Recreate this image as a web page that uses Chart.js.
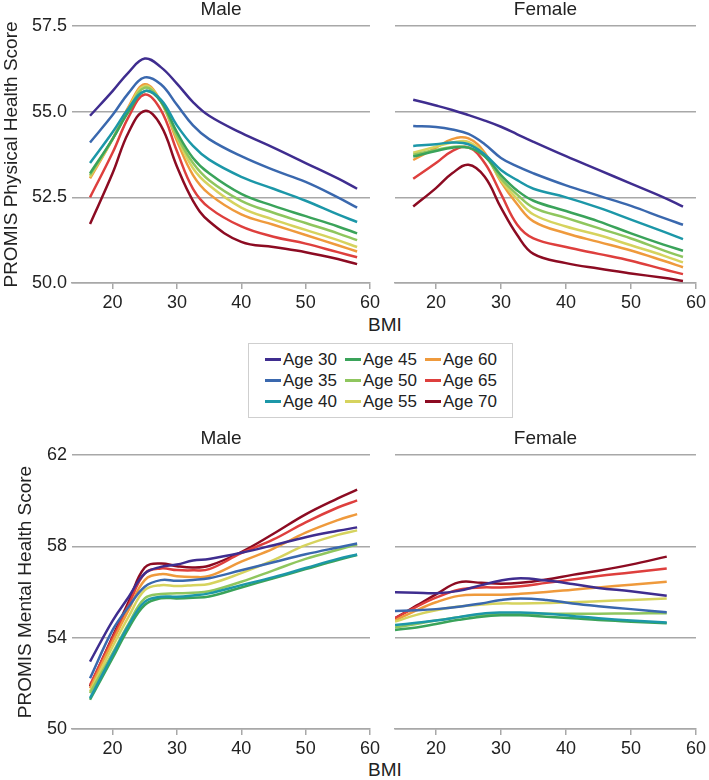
<!DOCTYPE html>
<html>
<head>
<meta charset="utf-8">
<script src="https://cdn.jsdelivr.net/npm/chart.js@4.4.1/dist/chart.umd.min.js"></script>
<style>
  body { margin: 0; background: #fff; width: 709px; height: 780px; position: relative; overflow: hidden;
         font-family: "Liberation Sans", Arial, sans-serif; color: #222; }
  canvas { position: absolute; }
  .lbl { position: absolute; font-size: 19px; transform: translate(-50%, -50%); white-space: nowrap; }
  #legend { position: absolute; left: 248px; top: 343px; width: 263px; height: 73px; border: 1px solid #cfcfcf; }
  .item { position: absolute; font-size: 17px; line-height: 20px; white-space: nowrap; transform: translateY(-50%); }
  .sw { display: inline-block; width: 16px; height: 3px; vertical-align: middle; margin-right: 2px; position: relative; top: -1px; }
</style>
</head>
<body>
<canvas id="physMale"></canvas>
<canvas id="physFemale"></canvas>
<canvas id="mentMale"></canvas>
<canvas id="mentFemale"></canvas>
<div class="lbl" style="left:385px; top:325px;">BMI</div>
<div class="lbl" style="left:385px; top:770px;">BMI</div>
<div id="legend"></div>

<script>
// --- data ---
const ages = [30, 35, 40, 45, 50, 55, 60, 65, 70];
const bmiTicks = [20, 30, 40, 50, 60];
const physTicks = [50, 52.5, 55, 57.5];
const mentTicks = [50, 54, 58, 62];

const bmiGrid = [16.5, 20, 22.5, 25, 27.5, 30, 32.5, 35, 40, 45, 50, 55, 58];
const bmiGridMentFemale = [13.7, 17, 20, 23.5, 27, 30, 33, 37, 41, 45, 50, 55.5];

// one row per age group, 30 -> 70
const physMaleRows = [
  [54.88, 55.6, 56.15, 56.55, 56.3, 55.82, 55.28, 54.88, 54.38, 53.95, 53.5, 53.05, 52.75],
  [54.1, 54.9, 55.55, 56.0, 55.8, 55.2, 54.6, 54.2, 53.7, 53.3, 52.95, 52.5, 52.2],
  [53.5, 54.4, 55.1, 55.6, 55.35, 54.6, 54.0, 53.6, 53.1, 52.75, 52.4, 52.0, 51.78],
  [53.2, 54.2, 55.0, 55.6, 55.3, 54.4, 53.65, 53.2, 52.6, 52.25, 51.95, 51.65, 51.45],
  [53.15, 54.2, 55.05, 55.7, 55.3, 54.3, 53.5, 53.0, 52.4, 52.05, 51.75, 51.45, 51.25],
  [53.1, 54.2, 55.1, 55.75, 55.3, 54.25, 53.35, 52.85, 52.2, 51.85, 51.55, 51.25, 51.05],
  [53.05, 54.2, 55.15, 55.8, 55.3, 54.15, 53.15, 52.6, 52.0, 51.7, 51.4, 51.1, 50.92],
  [52.5, 53.8, 54.85, 55.5, 55.05, 53.85, 52.75, 52.2, 51.65, 51.35, 51.15, 50.9, 50.75],
  [51.72, 53.2, 54.4, 55.02, 54.6, 53.4, 52.4, 51.8, 51.2, 51.05, 50.9, 50.7, 50.55]
];
const physFemaleRows = [
  [55.35, 55.18, 55.05, 54.9, 54.74, 54.56, 54.34, 54.12, 53.7, 53.3, 52.9, 52.5, 52.23],
  [54.58, 54.55, 54.48, 54.35, 54.05, 53.65, 53.4, 53.2, 52.85, 52.55, 52.25, 51.9, 51.7],
  [54.0, 54.05, 54.1, 54.05, 53.75, 53.3, 53.0, 52.75, 52.5, 52.2, 51.85, 51.5, 51.28],
  [53.69, 53.85, 53.95, 53.95, 53.7, 53.15, 52.7, 52.4, 52.1, 51.8, 51.45, 51.12, 50.94],
  [53.74, 53.88, 53.97, 53.95, 53.7, 53.05, 52.58, 52.2, 51.9, 51.6, 51.3, 50.95, 50.76],
  [53.8, 53.98, 54.1, 54.12, 53.75, 53.0, 52.45, 52.0, 51.65, 51.4, 51.1, 50.8, 50.6],
  [53.59, 53.95, 54.2, 54.22, 53.8, 52.95, 52.3, 51.8, 51.45, 51.2, 50.95, 50.65, 50.46],
  [53.04, 53.5, 53.85, 53.96, 53.5, 52.6, 51.7, 51.3, 51.05, 50.85, 50.65, 50.4, 50.26],
  [52.23, 52.77, 53.2, 53.45, 53.1, 52.2, 51.4, 50.85, 50.58, 50.42, 50.28, 50.15, 50.06]
];
const mentMaleRows = [
  [52.95, 54.74, 55.78, 56.81, 57.1, 57.2, 57.38, 57.45, 57.72, 58.05, 58.4, 58.68, 58.83],
  [52.22, 54.33, 55.35, 56.23, 56.52, 56.49, 56.53, 56.6, 56.95, 57.3, 57.65, 57.95, 58.12],
  [51.35, 53.24, 54.55, 55.57, 55.79, 55.79, 55.85, 55.94, 56.3, 56.65, 57.05, 57.45, 57.64],
  [51.28, 53.1, 54.41, 55.43, 55.72, 55.72, 55.75, 55.8, 56.2, 56.6, 57.0, 57.4, 57.62],
  [51.57, 53.32, 54.62, 55.72, 55.91, 55.94, 55.97, 56.03, 56.45, 56.95, 57.45, 57.85, 58.08],
  [51.64, 53.6, 54.92, 56.08, 56.3, 56.26, 56.3, 56.35, 56.83, 57.4, 58.05, 58.5, 58.7],
  [51.78, 53.82, 55.21, 56.52, 56.78, 56.69, 56.66, 56.7, 57.33, 57.9, 58.6, 59.15, 59.41],
  [51.93, 53.97, 55.43, 56.81, 57.03, 56.96, 56.95, 57.0, 57.7, 58.3, 59.05, 59.7, 60.01],
  [51.86, 54.04, 55.57, 57.07, 57.25, 57.13, 57.07, 57.15, 57.75, 58.55, 59.4, 60.1, 60.48]
];
const mentFemaleRows = [
  [55.99, 55.97, 55.95, 56.05, 56.3, 56.5, 56.6, 56.5, 56.35, 56.18, 56.03, 55.84],
  [55.17, 55.2, 55.25, 55.35, 55.5, 55.65, 55.72, 55.65, 55.5, 55.38, 55.25, 55.11],
  [54.55, 54.65, 54.75, 54.9, 55.05, 55.1, 55.1, 55.05, 54.95, 54.85, 54.75, 54.66],
  [54.34, 54.45, 54.6, 54.78, 54.92, 54.98, 54.98, 54.92, 54.85, 54.77, 54.7, 54.63],
  [54.45, 54.6, 54.75, 54.9, 55.0, 55.05, 55.05, 55.05, 55.05, 55.05, 55.06, 55.07],
  [54.7, 55.0, 55.2, 55.36, 55.45, 55.5, 55.5, 55.52, 55.55, 55.6, 55.65, 55.72],
  [54.75, 55.2, 55.55, 55.83, 55.88, 55.88, 55.92, 56.0, 56.1, 56.2, 56.32, 56.45],
  [54.85, 55.35, 55.75, 56.1, 56.2, 56.2, 56.25, 56.4, 56.55, 56.7, 56.85, 57.03],
  [54.85, 55.4, 55.9, 56.42, 56.4, 56.36, 56.4, 56.55, 56.75, 56.93, 57.2, 57.55]
];

// --- styling ---
const colors = ['#3f2d8f', '#3a68ae', '#1c97a8', '#3aa35a', '#8fc65e', '#d6d35e', '#ef9a3c', '#de3f3d', '#8c0b22'];
const FONT = '"Liberation Sans", Arial, sans-serif';
const GRID = '#a8a8a8';
const INK = '#222';

function makePanel(id, box, title, xs, rows, yMin, yMax, yTicks, yFmt, yTitle) {
  const cv = document.getElementById(id);
  cv.width = box.w; cv.height = box.h;
  cv.style.left = box.x + 'px';
  cv.style.top = box.y + 'px';

  const datasets = ages.map((a, i) => ({
    label: 'Age ' + a,
    data: xs.map((x, j) => ({ x: x, y: rows[i][j] })),
    borderColor: colors[i],
    borderWidth: 2.5,
    pointRadius: 0,
    tension: 0.4,
    fill: false
  }));

  return new Chart(cv, {
    type: 'line',
    data: { datasets },
    options: {
      responsive: false,
      animation: false,
      layout: { padding: { left: box.padL, right: box.padR, top: 0, bottom: 0 } },
      plugins: {
        legend: { display: false },
        tooltip: { enabled: false },
        title: {
          display: true, text: title, fullSize: false, color: INK,
          font: { family: FONT, size: 19, weight: 'normal', lineHeight: 1 },
          padding: { top: 0, bottom: 7 }
        }
      },
      scales: {
        x: {
          type: 'linear', min: 13.7, max: 60,
          afterBuildTicks: s => { s.ticks = bmiTicks.map(v => ({ value: v })); },
          afterFit: s => { s.height = 29; },
          ticks: { color: INK, font: { family: FONT, size: 18 }, padding: 3, maxRotation: 0, autoSkip: false },
          grid: { drawOnChartArea: false, drawTicks: true, tickLength: 6, color: GRID, lineWidth: 1.5 },
          border: { display: true, color: GRID, width: 1.5 }
        },
        y: {
          type: 'linear', min: yMin, max: yMax,
          afterBuildTicks: s => { s.ticks = yTicks.map(v => ({ value: v })); },
          afterFit: s => { s.width = box.yW; },
          ticks: {
            display: !!yTitle, color: INK, font: { family: FONT, size: 18 }, padding: 5,
            callback: v => yFmt(v)
          },
          grid: { color: GRID, lineWidth: 1.5, drawTicks: false },
          border: { display: false },
          title: {
            display: !!yTitle, text: yTitle || '', color: INK,
            font: { family: FONT, size: 19 }, padding: { top: 0, bottom: 0 }
          }
        }
      }
    }
  });
}

const leftTop = { x: 0, y: 0, w: 383, h: 312, padL: 0, padR: 10, yW: 72 };
const rightTop = { x: 383, y: 0, w: 326, h: 312, padL: 12, padR: 11, yW: 0 };
const leftBot = { x: 0, y: 429, w: 383, h: 329, padL: 14, padR: 10, yW: 58 };
const rightBot = { x: 383, y: 429, w: 326, h: 329, padL: 12, padR: 11, yW: 0 };

const fmt1 = v => v.toFixed(1);
const fmt0 = v => String(v);

makePanel('physMale', leftTop, 'Male', bmiGrid, physMaleRows, 50, 57.5, physTicks, fmt1, 'PROMIS Physical Health Score');
makePanel('physFemale', rightTop, 'Female', bmiGrid, physFemaleRows, 50, 57.5, physTicks, fmt1, null);
makePanel('mentMale', leftBot, 'Male', bmiGrid, mentMaleRows, 50, 62, mentTicks, fmt0, 'PROMIS Mental Health Score');
makePanel('mentFemale', rightBot, 'Female', bmiGridMentFemale, mentFemaleRows, 50, 62, mentTicks, fmt0, null);

// legend, filled column by column
const legend = document.getElementById('legend');
ages.forEach((a, i) => {
  const col = Math.floor(i / 3), row = i % 3;
  const el = document.createElement('div');
  el.className = 'item';
  el.style.left = (16 + col * 80) + 'px';
  el.style.top = (16 + row * 21) + 'px';
  el.innerHTML = '<span class="sw" style="background:' + colors[i] + '"></span>Age ' + a;
  legend.appendChild(el);
});
</script>
</body>
</html>
